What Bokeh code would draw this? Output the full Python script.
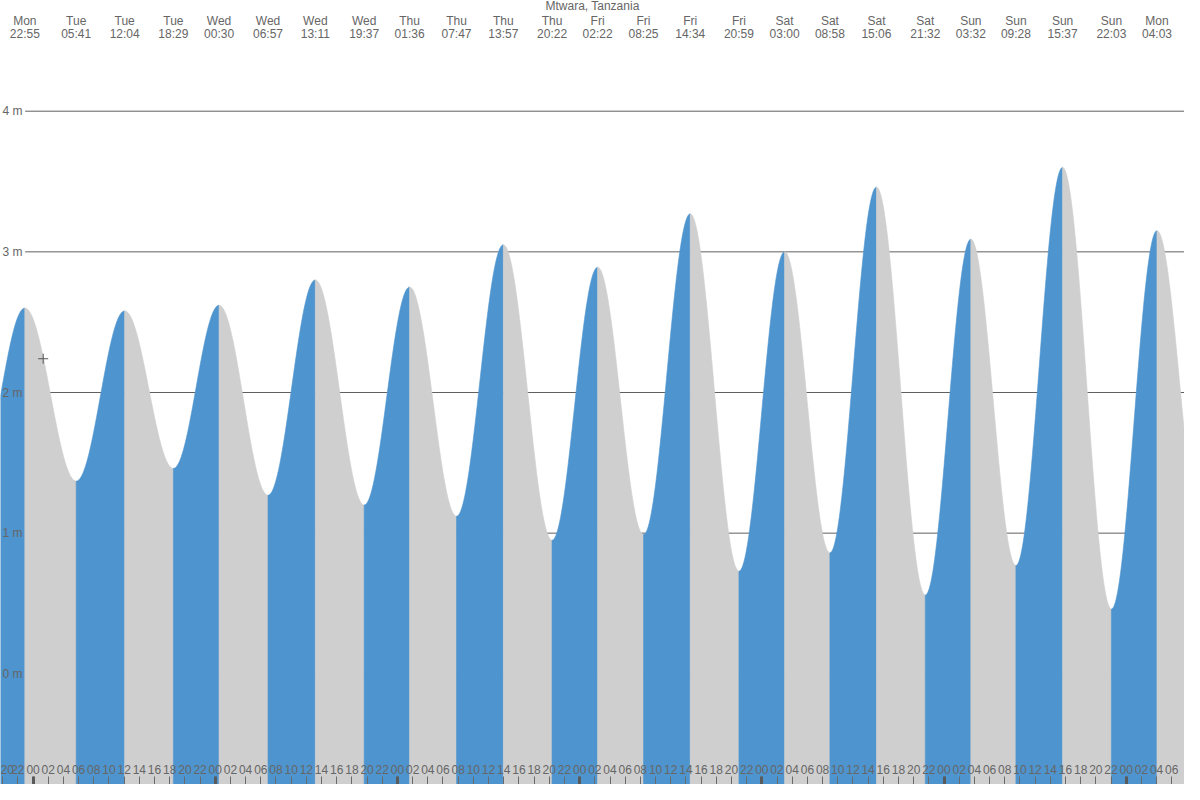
import numpy as np
import pandas as pd
from bokeh.plotting import figure
from bokeh.models import (Range1d, LinearAxis, FixedTicker, SingleIntervalTicker,
                          DatetimeTickFormatter, PrintfTickFormatter)
from bokeh.core.properties import value
from bokeh.embed import file_html
from bokeh.resources import INLINE

# ---------------- data ----------------
TITLE = "Mtwara, Tanzania"

extreme_times = [
    "2024-01-01 22:55", "2024-01-02 05:41", "2024-01-02 12:04", "2024-01-02 18:29",
    "2024-01-03 00:30", "2024-01-03 06:57", "2024-01-03 13:11", "2024-01-03 19:37",
    "2024-01-04 01:36", "2024-01-04 07:47", "2024-01-04 13:57", "2024-01-04 20:22",
    "2024-01-05 02:22", "2024-01-05 08:25", "2024-01-05 14:34", "2024-01-05 20:59",
    "2024-01-06 03:00", "2024-01-06 08:58", "2024-01-06 15:06", "2024-01-06 21:32",
    "2024-01-07 03:32", "2024-01-07 09:28", "2024-01-07 15:37", "2024-01-07 22:03",
    "2024-01-08 04:03",
]
extreme_heights = [
    2.60, 1.37, 2.58, 1.46,
    2.62, 1.27, 2.80, 1.20,
    2.75, 1.12, 3.05, 0.95,
    2.89, 0.99, 3.27, 0.73,
    3.00, 0.86, 3.46, 0.56,
    3.09, 0.77, 3.60, 0.46,
    3.15,
]
# turning points just outside the visible window (needed for the edges)
prev_low_time, prev_low_height = "2024-01-01 16:40", 1.40
next_low_time, next_low_height = "2024-01-08 10:00", 1.00

# current-time marker
now_time, now_height = "2024-01-02 01:20", 2.24

y_ticks = [0, 1, 2, 3, 4]
view_start, view_end = "2024-01-01 19:42:40", "2024-01-08 07:40:36"
y_start, y_end = -0.787, 4.787

# ---------------- styles ----------------
BLUE = "#4e94ce"
GREY = "#cfcfcf"
TEXT = "#666666"
GRID = "#606060"
FONT = "Liberation Sans"


def ms(s):
    return pd.Timestamp(s).value / 1e6


all_t = [ms(prev_low_time)] + [ms(t) for t in extreme_times] + [ms(next_low_time)]
all_h = [prev_low_height] + list(extreme_heights) + [next_low_height]

x0, x1 = ms(view_start), ms(view_end)
HOUR = 3600 * 1000.0

p = figure(width=1184, height=784, output_backend="svg", toolbar_location=None,
           x_range=Range1d(x0, x1), y_range=Range1d(y_start, y_end),
           x_axis_location=None, y_axis_location=None, min_border=0,
           outline_line_color=None, background_fill_color="white")
p.grid.visible = False

# horizontal level lines (behind the water)
grid_x0 = x0 + 3.25 * HOUR
p.segment(x0=[grid_x0] * len(y_ticks), x1=[x1] * len(y_ticks), y0=y_ticks, y1=y_ticks,
          line_color=GRID, line_width=1, level="underlay")

# tide curve between successive turning points: blue rising, grey falling
xs, ys, cols = [], [], []
s = np.linspace(0.0, 1.0, 60)
for i in range(len(all_t) - 1):
    ta, tb = all_t[i], all_t[i + 1]
    ha, hb = all_h[i], all_h[i + 1]
    tt = ta + (tb - ta) * s
    hh = ha + (hb - ha) * (1 - np.cos(np.pi * s)) / 2
    xs.append(list(tt) + [tb, ta])
    ys.append(list(hh) + [y_start - 1, y_start - 1])
    cols.append(BLUE if hb > ha else GREY)
p.patches(xs, ys, fill_color=cols, line_color=cols, line_width=0.6)

# current time marker
p.scatter(x=[ms(now_time)], y=[now_height], marker="cross", size=10,
          line_color="#555555", line_width=1)

# title
p.text(x=[(x0 + x1) / 2], y=[y_end - 6.0 / 143.5], text=[TITLE], text_align="center",
       text_baseline="middle", text_font_size="12px", text_color=TEXT,
       text_font=value(FONT))

# top: day/time of each turning point
fmt_top = "%a\n%H:%M"
top_fmt = DatetimeTickFormatter(microseconds=fmt_top, milliseconds=fmt_top, seconds=fmt_top,
                                minsec=fmt_top, minutes=fmt_top, hourmin=fmt_top, hours=fmt_top,
                                days=fmt_top, months=fmt_top, years=fmt_top)
top_axis = LinearAxis(ticker=FixedTicker(ticks=[ms(t) for t in extreme_times]),
                      formatter=top_fmt, fixed_location=y_end - 41.5 / 143.5,
                      axis_line_color=None, major_tick_line_color=None,
                      minor_tick_line_color=None, major_tick_in=0, major_tick_out=0,
                      major_label_standoff=0, major_label_text_font_size="12px",
                      major_label_text_color=TEXT, major_label_text_font=FONT,
                      major_label_text_line_height=0.95)
p.add_layout(top_axis, "above")

# level labels inside the plot
y_axis = LinearAxis(ticker=FixedTicker(ticks=y_ticks), formatter=PrintfTickFormatter(format="%d m"),
                    fixed_location=x0, axis_line_color=None, major_tick_line_color=None,
                    minor_tick_line_color=None, major_tick_in=0, major_tick_out=0,
                    major_label_standoff=2, major_label_text_font_size="12px",
                    major_label_text_color=TEXT, major_label_text_font=FONT)
p.add_layout(y_axis, "right")

# bottom hour labels and ticks
fmt_h = "%H"
hour_fmt = DatetimeTickFormatter(microseconds=fmt_h, milliseconds=fmt_h, seconds=fmt_h,
                                 minsec=fmt_h, minutes=fmt_h, hourmin=fmt_h, hours=fmt_h,
                                 days=fmt_h, months=fmt_h, years=fmt_h)
hour_axis = LinearAxis(ticker=SingleIntervalTicker(interval=2 * HOUR, num_minor_ticks=0),
                       formatter=hour_fmt, fixed_location=y_start,
                       axis_line_color=None, major_tick_in=8, major_tick_out=0,
                       major_tick_line_color="#6a6a6a", minor_tick_line_color=None,
                       major_label_standoff=-20, major_label_text_font_size="12px",
                       major_label_text_color=TEXT, major_label_text_font=FONT)
p.add_layout(hour_axis, "below")

day_axis = LinearAxis(ticker=SingleIntervalTicker(interval=24 * HOUR, num_minor_ticks=0),
                      formatter=hour_fmt, fixed_location=y_start,
                      axis_line_color=None, major_tick_in=8, major_tick_out=0,
                      major_tick_line_color="#5a5a5a", major_tick_line_width=3,
                      minor_tick_line_color=None, major_label_text_color=None)
p.add_layout(day_axis, "below")

open("out.html", "w").write(file_html(p, INLINE))
